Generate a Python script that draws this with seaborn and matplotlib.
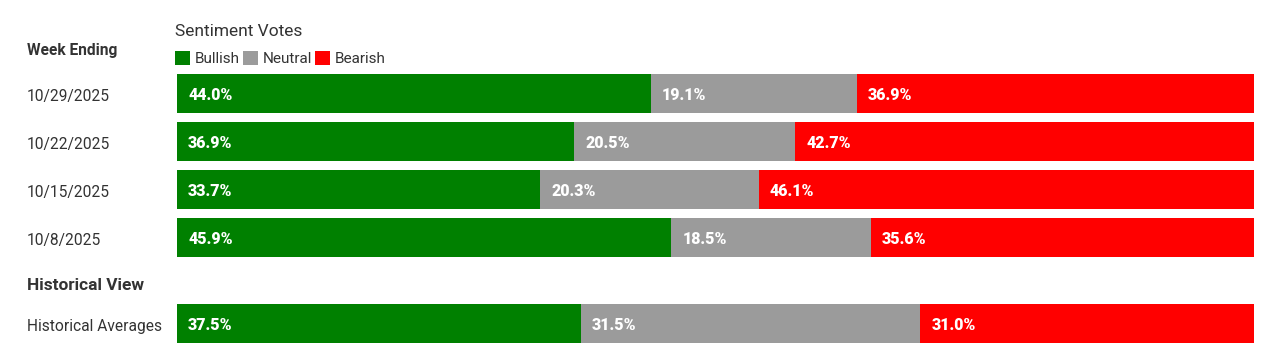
import numpy as np
import pandas as pd
import matplotlib
matplotlib.use("Agg")
import matplotlib.pyplot as plt
import matplotlib.transforms as mtrans
from matplotlib.patches import Patch
import seaborn as sns

weeks = ['10/29/2025', '10/22/2025', '10/15/2025', '10/8/2025']
bullish = [44.0, 36.9, 33.7, 45.9]
neutral = [19.1, 20.5, 20.3, 18.5]
bearish = [36.9, 42.7, 46.1, 35.6]

hist_label = ['Historical Averages']
hist_bullish = [37.5]
hist_neutral = [31.5]
hist_bearish = [31.0]

series_names = ['Bullish', 'Neutral', 'Bearish']
colors = ['#008000', '#9b9b9b', '#ff0000']

sns.set_style('white')
plt.rcParams['font.family'] = ['Roboto', 'DejaVu Sans']
txt = '#333333'

W, H = 1284, 351
fig = plt.figure(figsize=(W / 100, H / 100), dpi=100)

left = 177 / W
width = (1254 - 177) / W
ax_top = fig.add_axes([left, 1 - 261.5 / H, width, 192 / H])
ax_bot = fig.add_axes([left, 1 - 347.5 / H, width, 48 / H])


def stacked(ax, cats, b, n, r):
    df = pd.DataFrame({'cat': cats, 'Bullish': b, 'Neutral': n, 'Bearish': r})
    df['c1'] = df['Bullish']
    df['c2'] = df['Bullish'] + df['Neutral']
    df['c3'] = df['c2'] + df['Bearish']
    # draw cumulative totals back to front
    for col, colr in zip(['c3', 'c2', 'c1'], colors[::-1]):
        sns.barplot(data=df, x=col, y='cat', order=cats, orient='h', color=colr,
                    width=39 / 48, saturation=1, ax=ax, linewidth=0)
    starts = np.column_stack([np.zeros(len(df)), df['c1'], df['c2']])
    vals = df[['Bullish', 'Neutral', 'Bearish']].to_numpy()
    for i in range(len(df)):
        for j in range(3):
            ax.annotate(f'{vals[i, j]:.1f}%', (starts[i, j], i), xytext=(8, -1),
                        textcoords='offset points', ha='left', va='center',
                        color='white', fontsize=11.5, fontweight='black')
    ax.set_xlim(0, 100)
    ax.set_ylim(len(cats) - 0.5, -0.5)
    ax.set_xlabel('')
    ax.set_ylabel('')
    ax.set_xticks([])
    ax.tick_params(axis='y', length=0, pad=108, labelsize=11.2, labelcolor=txt)
    shift = mtrans.ScaledTranslation(0, -1.5 / 100, fig.dpi_scale_trans)
    for lab in ax.get_yticklabels():
        lab.set_ha('left')
        lab.set_transform(lab.get_transform() + shift)
    for s in ax.spines.values():
        s.set_visible(False)


stacked(ax_top, weeks, bullish, neutral, bearish)
stacked(ax_bot, hist_label, hist_bullish, hist_neutral, hist_bearish)

fig.text(27 / W, 1 - 51 / H, 'Week Ending', ha='left', va='center',
         fontsize=11.2, fontweight='bold', color=txt)
fig.text(27 / W, 1 - 286 / H, 'Historical View', ha='left', va='center',
         fontsize=12.4, fontweight='bold', color=txt)

handles = [Patch(facecolor=c, edgecolor='none') for c in colors]
leg = fig.legend(handles, series_names, ncol=3, loc='upper left',
                 bbox_to_anchor=(left - 2 / W, 1 - 24 / H), frameon=False,
                 title='Sentiment Votes', alignment='left', fontsize=11,
                 title_fontsize=12.5, handlelength=1.0, handleheight=1.0,
                 handletextpad=0.3, columnspacing=0.2, borderpad=0,
                 borderaxespad=0, labelspacing=0.8)
for t in leg.get_texts():
    t.set_color(txt)
leg.get_title().set_color(txt)

fig.savefig('out.png', dpi=100)
